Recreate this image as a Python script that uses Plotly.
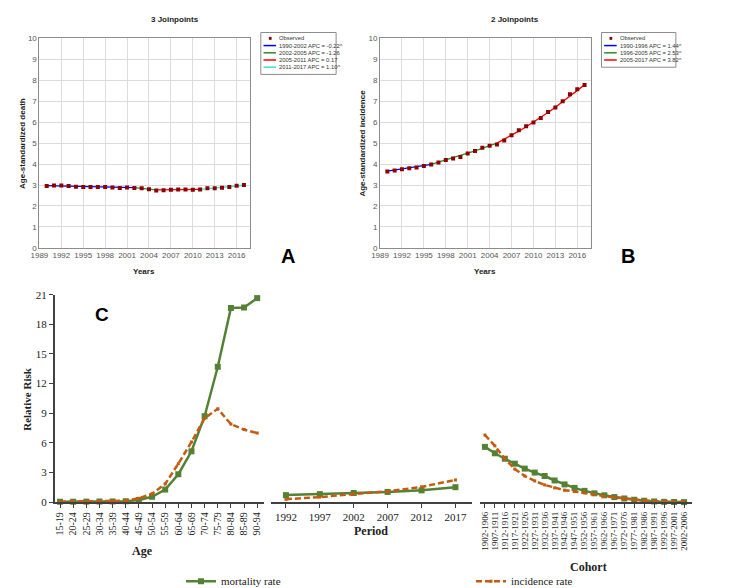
import plotly.graph_objects as go

# ---- panel A / B : joinpoint data ----
years = list(range(1990, 2018))
death_obs = [2.95, 2.98, 2.98, 2.95, 2.92, 2.91, 2.90, 2.90, 2.90, 2.88, 2.86, 2.88, 2.86, 2.85,
             2.80, 2.74, 2.75, 2.78, 2.79, 2.79, 2.78, 2.79, 2.84, 2.84, 2.87, 2.91, 2.96, 3.00]
death_joinpoints = [1990, 2002, 2005, 2011, 2017]
death_fit = [2.97, 2.88, 2.77, 2.79, 2.99]
death_labels = ["1990-2002 APC = -0.22^", "2002-2005 APC = -1.26",
                "2005-2011 APC = 0.17", "2011-2017 APC = 1.10^"]
death_colors = ["#0000ff", "#2e8b2e", "#ff0000", "#40e0d0"]

inc_obs = [3.64, 3.69, 3.75, 3.80, 3.84, 3.91, 3.98, 4.08, 4.19, 4.26, 4.34, 4.50, 4.62, 4.78,
           4.88, 4.93, 5.13, 5.38, 5.61, 5.80, 5.98, 6.20, 6.48, 6.70, 7.00, 7.33, 7.57, 7.77]
inc_fit = [3.66, 3.71, 3.76, 3.82, 3.87, 3.93, 3.99, 4.09, 4.19, 4.30, 4.40, 4.52, 4.63, 4.75,
           4.87, 5.00, 5.18, 5.37, 5.57, 5.78, 6.00, 6.23, 6.46, 6.71, 6.97, 7.23, 7.50, 7.78]
inc_joinpoints = [1990, 1996, 2005, 2017]
inc_labels = ["1990-1996 APC = 1.44^", "1996-2005 APC = 2.53^", "2005-2017 APC = 3.82^"]
inc_colors = ["#0000ff", "#2e8b2e", "#ff0000"]

# ---- panel C : age-period-cohort ----
age_groups = ["15-19", "20-24", "25-29", "30-34", "35-39", "40-44", "45-49", "50-54",
              "55-59", "60-64", "65-69", "70-74", "75-79", "80-84", "85-89", "90-94"]
age_mort = [0.05, 0.05, 0.06, 0.07, 0.08, 0.10, 0.22, 0.55, 1.28, 2.83, 5.15, 8.7,
            13.7, 19.65, 19.7, 20.65]
age_inc = [0.05, 0.06, 0.07, 0.08, 0.10, 0.15, 0.40, 0.85, 1.85, 3.9, 6.1, 8.5,
           9.45, 7.9, 7.35, 7.0]
periods = ["1992", "1997", "2002", "2007", "2012", "2017"]
period_mort = [0.72, 0.82, 0.93, 1.04, 1.2, 1.52]
period_inc = [0.3, 0.52, 0.82, 1.1, 1.55, 2.25]
cohorts = ["1902-1906", "1907-1911", "1912-1916", "1917-1921", "1922-1926", "1927-1931",
           "1932-1936", "1937-1941", "1942-1946", "1947-1951", "1952-1956", "1957-1961",
           "1962-1966", "1967-1971", "1972-1976", "1977-1981", "1982-1986", "1987-1991",
           "1992-1996", "1997-2001", "2002-2006"]
cohort_mort = [5.6, 4.95, 4.4, 3.9, 3.4, 3.0, 2.65, 2.2, 1.8, 1.45, 1.15, 0.9, 0.7, 0.52,
               0.38, 0.25, 0.15, 0.08, 0.04, 0.02, 0.01]
cohort_inc = [6.8, 5.7, 4.4, 3.35, 2.65, 2.15, 1.75, 1.45, 1.22, 1.08, 0.95, 0.78, 0.6,
              0.47, 0.37, 0.27, 0.18, 0.11, 0.06, 0.03, 0.02]

W, H = 753, 588
def px(x):
    return x / W
def py(y):
    return 1 - y / H

SANS = "Liberation Sans, Arial"
SERIF = "Liberation Serif, Times New Roman"
OBS = "#8b0000"
MORT = "#548235"
INC = "#c55a11"

fig = go.Figure()

# A: fitted segments + observed
for i in range(len(death_joinpoints) - 1):
    fig.add_trace(go.Scatter(
        x=death_joinpoints[i:i + 2], y=death_fit[i:i + 2], mode="lines",
        line=dict(color=death_colors[i], width=1.3), showlegend=False,
        xaxis="x", yaxis="y"))
fig.add_trace(go.Scatter(
    x=years, y=death_obs, mode="markers", showlegend=False,
    marker=dict(symbol="square", size=4, color=OBS), xaxis="x", yaxis="y"))

# B: fitted segments + observed
for i in range(len(inc_joinpoints) - 1):
    seg = [j for j, yr in enumerate(years) if inc_joinpoints[i] <= yr <= inc_joinpoints[i + 1]]
    fig.add_trace(go.Scatter(
        x=[years[j] for j in seg], y=[inc_fit[j] for j in seg], mode="lines",
        line=dict(color=inc_colors[i], width=1.3), showlegend=False,
        xaxis="x2", yaxis="y2"))
fig.add_trace(go.Scatter(
    x=years, y=inc_obs, mode="markers", showlegend=False,
    marker=dict(symbol="square", size=4, color=OBS), xaxis="x2", yaxis="y2"))

# C: three sub-panels sharing one scale
groups = [(age_groups, age_mort, age_inc, "x3", "y3"),
          (periods, period_mort, period_inc, "x4", "y4"),
          (cohorts, cohort_mort, cohort_inc, "x5", "y5")]
for k, (cats, mort, inc, xa, ya) in enumerate(groups):
    fig.add_trace(go.Scatter(
        x=cats, y=mort, mode="lines+markers", name="mortality rate",
        line=dict(color=MORT, width=2.5), marker=dict(symbol="square", size=6, color=MORT),
        showlegend=(k == 0), legendgroup="m", cliponaxis=False, xaxis=xa, yaxis=ya))
    fig.add_trace(go.Scatter(
        x=cats, y=inc, mode="lines+markers", name="incidence rate",
        line=dict(color=INC, width=2.5, dash="6px,3px"),
        marker=dict(symbol="square", size=3, color=INC),
        showlegend=(k == 0), legendgroup="i", cliponaxis=False, xaxis=xa, yaxis=ya))

jp_axis = dict(showgrid=True, gridcolor="#dcdcdc", showline=True, mirror=True,
               linecolor="#8c8c8c", linewidth=1, zeroline=False, ticks="",
               tickfont=dict(family=SANS, size=8, color="#555"))
year_axis = dict(jp_axis, range=[1989, 2017.84], tick0=1989, dtick=3)
val_axis = dict(jp_axis, range=[0, 10], dtick=1)

c_x = dict(type="category", showline=True, linecolor="#404040", linewidth=2,
           ticks="outside", ticklen=4, tickcolor="#404040", showgrid=False,
           zeroline=False, tickfont=dict(family=SERIF, size=11, color="#222"))
c_y = dict(range=[0, 21], showgrid=False, zeroline=False)

fig.update_layout(
    width=W, height=H, margin=dict(l=0, r=0, t=0, b=0),
    paper_bgcolor="white", plot_bgcolor="white",
    xaxis=dict(year_axis, domain=[px(25), px(260)], anchor="y"),
    yaxis=dict(val_axis, domain=[py(240), py(25)], anchor="x"),
    xaxis2=dict(year_axis, domain=[px(405), px(640)], anchor="y2"),
    yaxis2=dict(val_axis, domain=[py(240), py(25)], anchor="x2"),
    xaxis3=dict(c_x, domain=[px(42), px(275)], range=[-0.41, 15.48], tickangle=-90,
                anchor="y3", tickmode="array", tickvals=age_groups,
                tickfont=dict(family=SERIF, size=10, color="#222")),
    yaxis3=dict(c_y, domain=[py(501), py(288)], anchor="x3", dtick=3, showline=True,
                linecolor="#404040", linewidth=1.5, ticks="outside", ticklen=4,
                tickcolor="#404040", tickfont=dict(family=SERIF, size=11, color="#222")),
    xaxis4=dict(c_x, domain=[px(283), px(508)], range=[-0.45, 5.5], anchor="y4"),
    yaxis4=dict(c_y, domain=[py(501), py(288)], anchor="x4", visible=False),
    xaxis5=dict(c_x, domain=[px(517), 1], range=[-0.45, 20.8], tickangle=-90, anchor="y5",
                tickmode="array", tickvals=cohorts,
                tickfont=dict(family=SERIF, size=9, color="#222")),
    yaxis5=dict(c_y, domain=[py(501), py(288)], anchor="x5", visible=False),
    legend=dict(orientation="h", x=px(183), y=py(582), xanchor="left", yanchor="middle",
                font=dict(family=SERIF, size=11, color="#222"), entrywidth=245,
                bgcolor="rgba(0,0,0,0)"),
)

ann = []
def text(x, y, s, size, family=SANS, bold=False, angle=0, color="#222", xanchor="center"):
    ann.append(dict(x=px(x), y=py(y), xref="paper", yref="paper", showarrow=False,
                    text="<b>%s</b>" % s if bold else s, textangle=angle, xanchor=xanchor,
                    yanchor="middle", font=dict(family=family, size=size, color=color)))

# panel titles / axis titles
text(176, 6, "3 Joinpoints", 8, bold=True)
text(556, 6, "2 Joinpoints", 8, bold=True)
text(6, 133, "Age-standardized death", 8, bold=True, angle=-90)
text(386, 133, "Age-standardized incidence", 8, bold=True, angle=-90)
text(142, 264, "Years", 8, bold=True)
text(522, 264, "Years", 8, bold=True)
text(302, 248, "A", 20, bold=True, color="#000")
text(682, 248, "B", 20, bold=True, color="#000")
text(95, 308, "C", 19, bold=True, color="#000")
text(11, 395, "Relative Risk", 11, family=SERIF, bold=True, angle=-90)
text(140, 551, "Age", 12, family=SERIF, bold=True)
text(395, 531, "Period", 12, family=SERIF, bold=True)
text(637, 567, "Cohort", 12, family=SERIF, bold=True)

# small legend boxes of the joinpoint panels
shapes = []
def jp_legend(left, top, right, labels, colors):
    rows = len(labels) + 1
    bottom = top + 6 + rows * 7.4
    shapes.append(dict(type="rect", xref="paper", yref="paper", x0=px(left), x1=px(right),
                       y0=py(bottom), y1=py(top), line=dict(color="#8c8c8c", width=1),
                       fillcolor="white"))
    yy = top + 6
    shapes.append(dict(type="rect", xref="paper", yref="paper", x0=px(left + 9), x1=px(left + 12),
                       y0=py(yy + 1.5), y1=py(yy - 1.5), line=dict(width=0), fillcolor=OBS))
    text(left + 18, yy, "Observed", 5.8, color="#333", xanchor="left")
    for lab, col in zip(labels, colors):
        yy += 7.4
        shapes.append(dict(type="line", xref="paper", yref="paper", x0=px(left + 3),
                           x1=px(left + 17), y0=py(yy), y1=py(yy), line=dict(color=col, width=1.5)))
        text(left + 18, yy, lab, 5.8, color="#333", xanchor="left")

jp_legend(272, 19, 356, death_labels, death_colors)
jp_legend(652, 19, 735, inc_labels, inc_colors)

fig.update_layout(annotations=ann, shapes=shapes)
fig.write_html("out.html")
